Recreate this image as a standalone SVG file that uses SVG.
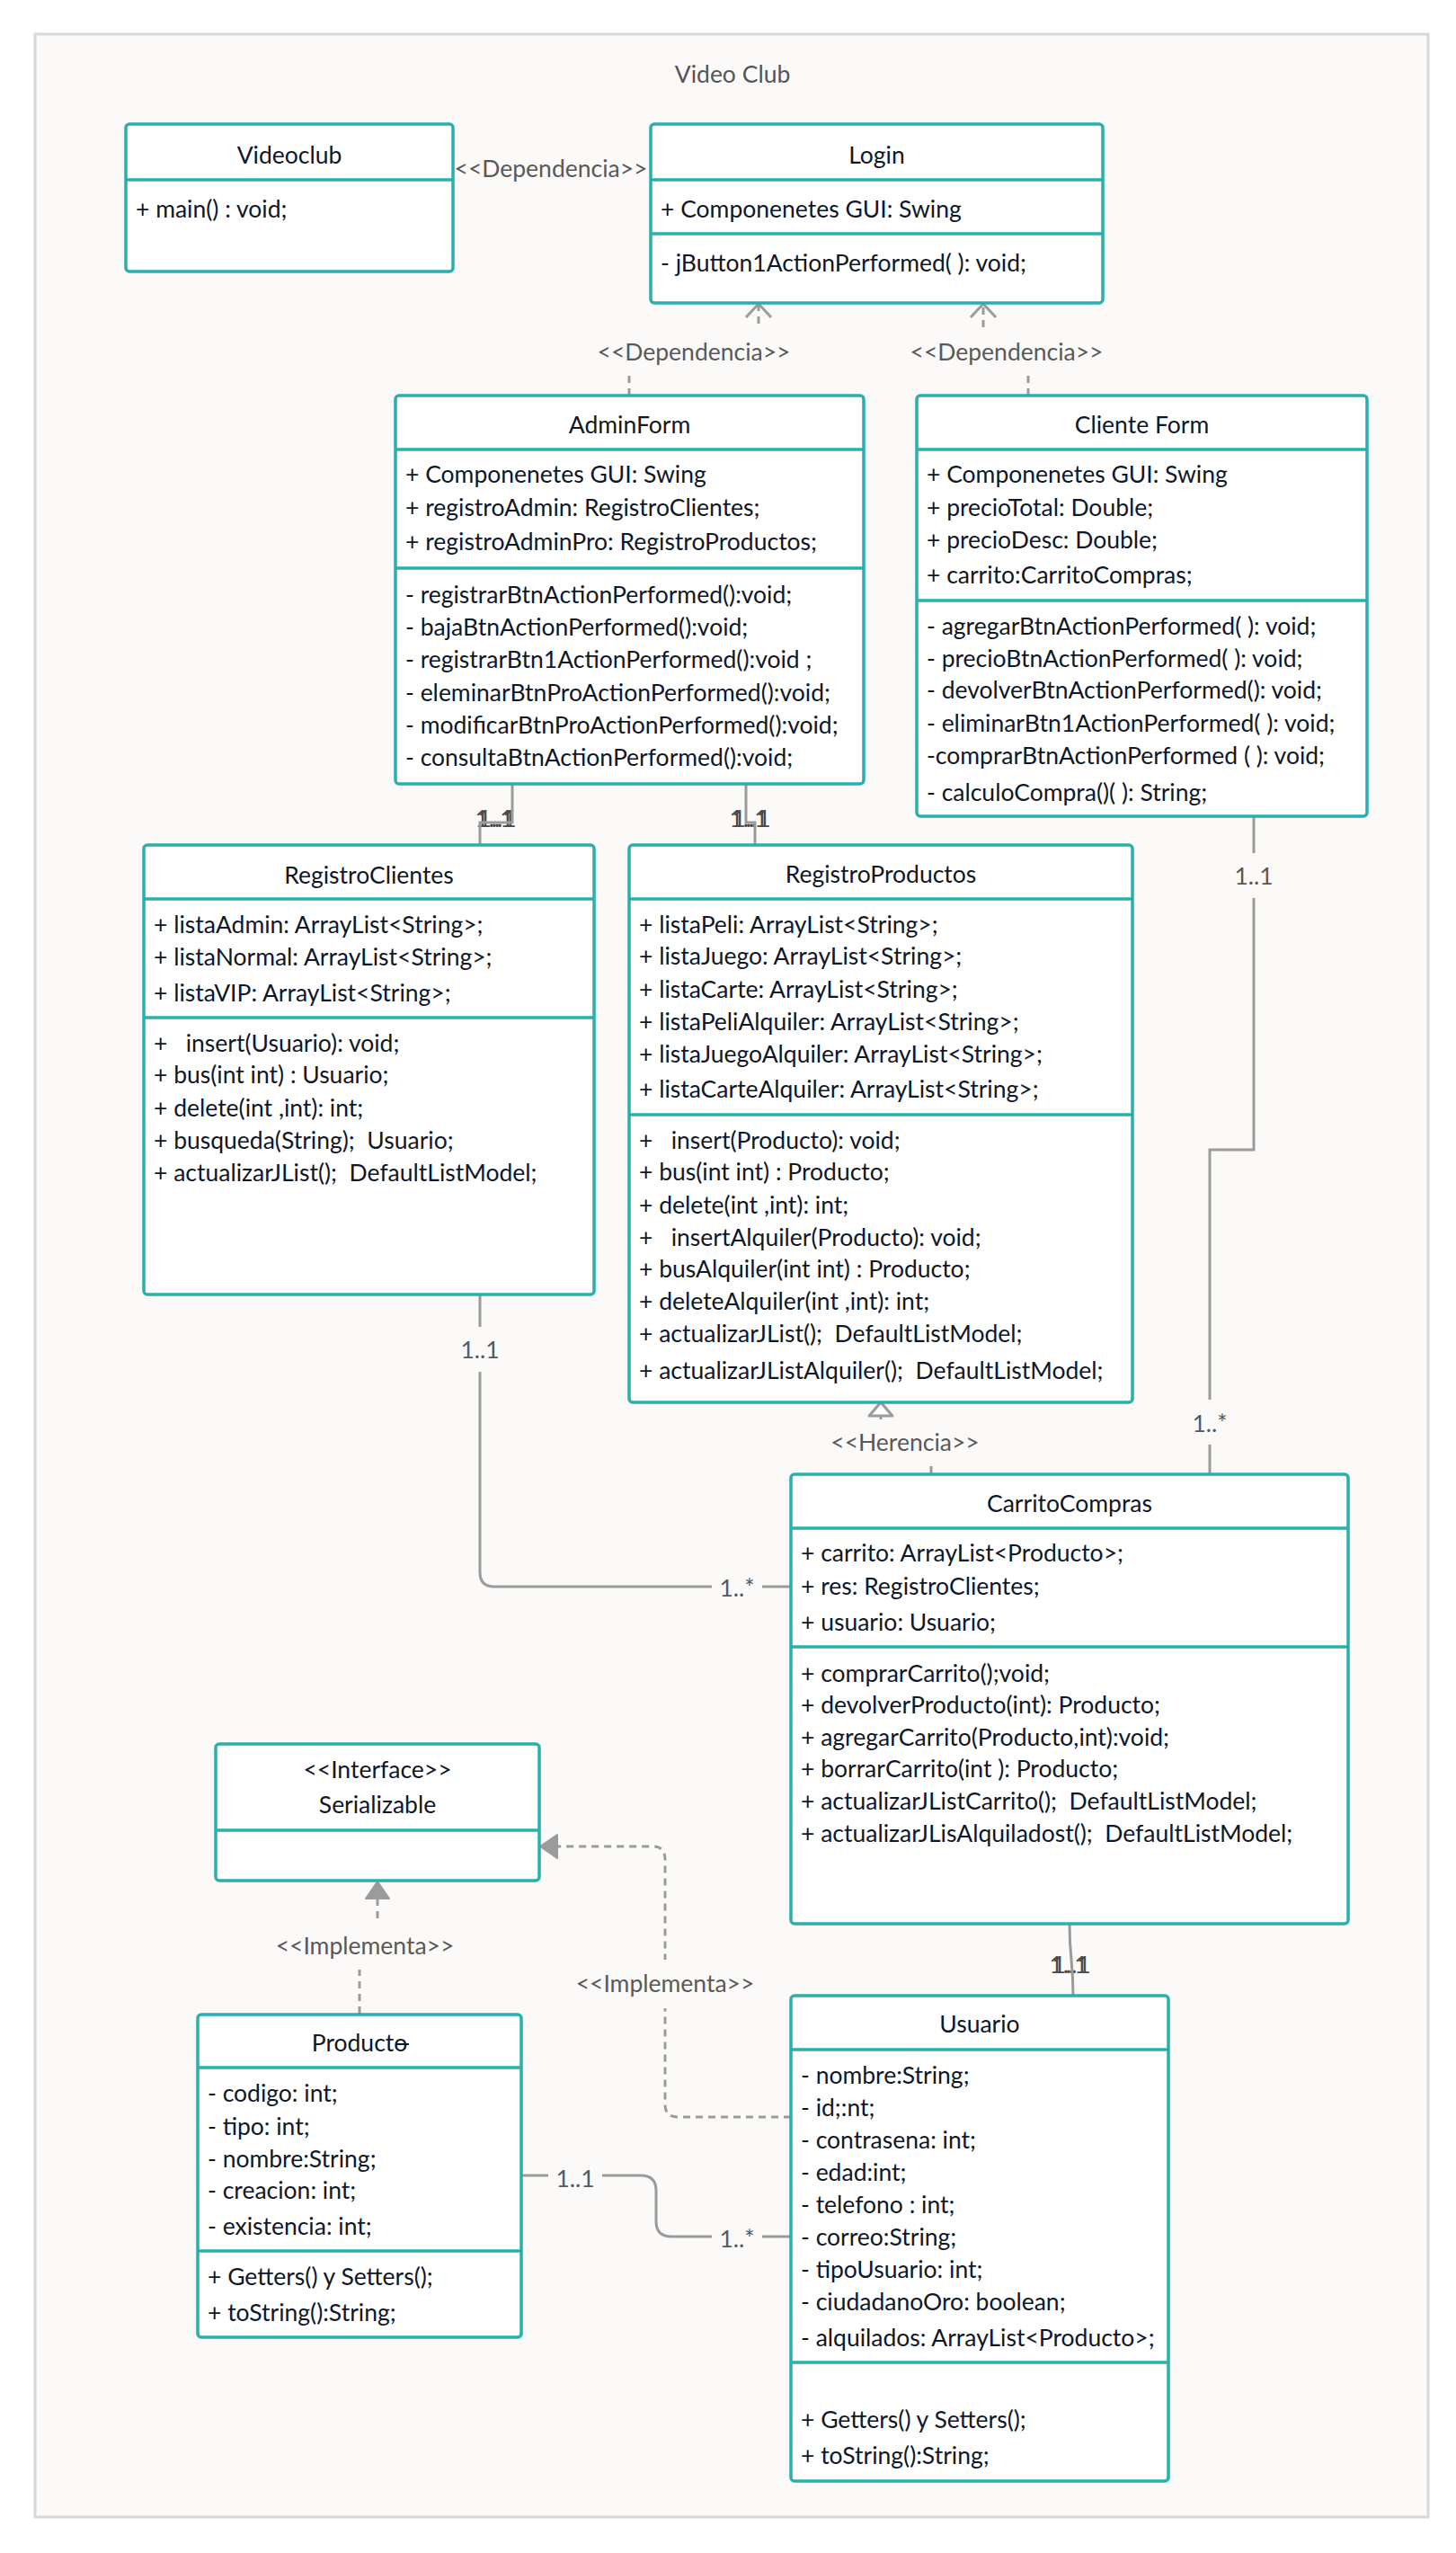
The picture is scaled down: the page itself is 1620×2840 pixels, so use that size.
<svg xmlns="http://www.w3.org/2000/svg" width="1620" height="2840" viewBox="0 0 1620 2840">
<style>
.frame{fill:#fbfaf9;stroke:#d8d8d8;stroke-width:3}
.box{fill:#ffffff;stroke:#27b0ad;stroke-width:3.5}
.dv{stroke:#27b0ad;stroke-width:3.5}
.t{font-family:Lato,"Open Sans","Liberation Sans",sans-serif;font-size:26.5px;fill:#0f1729;white-space:pre}
.c{text-anchor:middle}
.lb{font-family:Lato,"Open Sans","Liberation Sans",sans-serif;font-size:26.5px;fill:#595959;text-anchor:middle;white-space:pre}
.ln{fill:none;stroke:#9b9b9b;stroke-width:3}
.ds{stroke-dasharray:8 6}
.bg{fill:#fbfaf9}
.ah{fill:#9b9b9b;stroke:#9b9b9b;stroke-width:2;stroke-linejoin:round}
</style>
<rect class="frame" x="39" y="38" width="1550" height="2762"/>
<text class="lb" x="815" y="92" style="fill:#555555">Video Club</text>

<g id="connectors">
  <text class="lb" x="550" y="920" style="fill:#4a4a4a">1..1</text>
  <text class="lb" x="553" y="920" style="fill:#4a4a4a">1..1</text>
  <text class="lb" x="833" y="920" style="fill:#4a4a4a">1..1</text>
  <text class="lb" x="836" y="920" style="fill:#4a4a4a">1..1</text>
  <text class="lb" x="1189" y="2195" style="fill:#4a4a4a">1..1</text>
  <text class="lb" x="1192" y="2195" style="fill:#4a4a4a">1..1</text>

  <path class="ln ds" d="M700,440 V392 H844 V339"/>
  <path class="ln" d="M830,353 L844,338 L858,353"/>
  <path class="ln ds" d="M1144,440 V392 H1094 V339"/>
  <path class="ln" d="M1080,353 L1094,338 L1108,353"/>
  <path class="ln" d="M570,872 V915 H534 V940"/>
  <path class="ln" d="M830,872 V915 H840 V940"/>
  <path class="ln" d="M1395,908 V1279 H1346 V1640"/>
  <path class="ln" d="M534,1440 V1749 Q534,1765 550,1765 H880"/>
  <path class="ln" d="M1036,1640 V1605 H980 V1575"/>
  <path d="M980,1560 L967,1575 L993,1575 Z" style="fill:#ffffff;stroke:#9b9b9b;stroke-width:3;stroke-linejoin:round"/>
  <path class="ln" d="M1190,2140 C1190,2180 1194,2180 1194,2221"/>
  <path class="ln ds" d="M400,2240 V2165 H420 V2112"/>
  <path class="ah" d="M420,2093 L407,2112 L433,2112 Z"/>
  <path class="ln ds" d="M880,2355 H754 Q740,2355 740,2341 V2068 Q740,2054 726,2054 H620"/>
  <path class="ah" d="M601,2054 L620,2041 L620,2067 Z"/>
  <path class="ln" d="M580,2420 H713 Q730,2420 730,2437 V2471 Q730,2488 747,2488 H880"/>

  <text class="lb" x="613" y="197">&lt;&lt;Dependencia&gt;&gt;</text>
  <rect class="bg" x="657" y="366" width="230" height="52"/>
  <text class="lb" x="772" y="401">&lt;&lt;Dependencia&gt;&gt;</text>
  <rect class="bg" x="1005" y="366" width="230" height="52"/>
  <text class="lb" x="1120" y="401">&lt;&lt;Dependencia&gt;&gt;</text>
  <rect class="bg" x="1367" y="949" width="56" height="50"/>
  <text class="lb" x="1395" y="984">1..1</text>
  <rect class="bg" x="1318" y="1557" width="56" height="50"/>
  <text class="lb" x="1346" y="1593">1..*</text>
  <rect class="bg" x="506" y="1476" width="56" height="50"/>
  <text class="lb" x="534" y="1511">1..1</text>
  <rect class="bg" x="792" y="1740" width="56" height="50"/>
  <text class="lb" x="820" y="1776">1..*</text>
  <rect class="bg" x="919" y="1579" width="176" height="52"/>
  <text class="lb" x="1007" y="1614">&lt;&lt;Herencia&gt;&gt;</text>
  <rect class="bg" x="298" y="2139" width="216" height="52"/>
  <text class="lb" x="406" y="2174">&lt;&lt;Implementa&gt;&gt;</text>
  <rect class="bg" x="632" y="2180" width="216" height="54"/>
  <text class="lb" x="740" y="2216">&lt;&lt;Implementa&gt;&gt;</text>
  <rect class="bg" x="610" y="2395" width="60" height="50"/>
  <text class="lb" x="640" y="2433">1..1</text>
  <rect class="bg" x="792" y="2463" width="56" height="50"/>
  <text class="lb" x="820" y="2500">1..*</text>
</g>

<g id="videoclub">
  <rect class="box" x="140" y="138" width="364" height="164" rx="4"/>
  <line class="dv" x1="140" y1="200" x2="504" y2="200"/>
  <text class="t c" x="322" y="182">Videoclub</text>
  <text class="t" x="151" y="242">+ main() : void;</text>
</g>

<g id="login">
  <rect class="box" x="724" y="138" width="503" height="199" rx="4"/>
  <line class="dv" x1="724" y1="200" x2="1227" y2="200"/>
  <line class="dv" x1="724" y1="260" x2="1227" y2="260"/>
  <text class="t c" x="975.5" y="182">Login</text>
  <text class="t" x="735" y="242">+ Componenetes GUI: Swing</text>
  <text class="t" x="735" y="302">- jButton1ActionPerformed( ): void;</text>
</g>

<g id="adminform">
  <rect class="box" x="440" y="440" width="521" height="432" rx="4"/>
  <line class="dv" x1="440" y1="500" x2="961" y2="500"/>
  <line class="dv" x1="440" y1="632" x2="961" y2="632"/>
  <text class="t c" x="700.5" y="482">AdminForm</text>
  <text class="t" x="451" y="537">+ Componenetes GUI: Swing</text>
  <text class="t" x="451" y="574">+ registroAdmin: RegistroClientes;</text>
  <text class="t" x="451" y="612">+ registroAdminPro: RegistroProductos;</text>
  <text class="t" x="451" y="671">- registrarBtnActionPerformed():void;</text>
  <text class="t" x="451" y="707">- bajaBtnActionPerformed():void;</text>
  <text class="t" x="451" y="743">- registrarBtn1ActionPerformed():void ;</text>
  <text class="t" x="451" y="780">- eleminarBtnProActionPerformed():void;</text>
  <text class="t" x="451" y="816">- modificarBtnProActionPerformed():void;</text>
  <text class="t" x="451" y="852">- consultaBtnActionPerformed():void;</text>
</g>

<g id="clienteform">
  <rect class="box" x="1020" y="440" width="501" height="468" rx="4"/>
  <line class="dv" x1="1020" y1="500" x2="1521" y2="500"/>
  <line class="dv" x1="1020" y1="668" x2="1521" y2="668"/>
  <text class="t c" x="1270.5" y="482">Cliente Form</text>
  <text class="t" x="1031" y="537">+ Componenetes GUI: Swing</text>
  <text class="t" x="1031" y="574">+ precioTotal: Double;</text>
  <text class="t" x="1031" y="610">+ precioDesc: Double;</text>
  <text class="t" x="1031" y="649">+ carrito:CarritoCompras;</text>
  <text class="t" x="1031" y="706">- agregarBtnActionPerformed( ): void;</text>
  <text class="t" x="1031" y="742">- precioBtnActionPerformed( ): void;</text>
  <text class="t" x="1031" y="777">- devolverBtnActionPerformed(): void;</text>
  <text class="t" x="1031" y="814">- eliminarBtn1ActionPerformed( ): void;</text>
  <text class="t" x="1031" y="850">-comprarBtnActionPerformed ( ): void;</text>
  <text class="t" x="1031" y="891">- calculoCompra()( ): String;</text>
</g>

<g id="registroclientes">
  <rect class="box" x="160" y="940" width="501" height="500" rx="4"/>
  <line class="dv" x1="160" y1="1000" x2="661" y2="1000"/>
  <line class="dv" x1="160" y1="1132" x2="661" y2="1132"/>
  <text class="t c" x="410.5" y="983">RegistroClientes</text>
  <text class="t" x="171" y="1038">+ listaAdmin: ArrayList&lt;String&gt;;</text>
  <text class="t" x="171" y="1074">+ listaNormal: ArrayList&lt;String&gt;;</text>
  <text class="t" x="171" y="1114">+ listaVIP: ArrayList&lt;String&gt;;</text>
  <text class="t" x="171" y="1170">+   insert(Usuario): void;</text>
  <text class="t" x="171" y="1205">+ bus(int int) : Usuario;</text>
  <text class="t" x="171" y="1242">+ delete(int ,int): int;</text>
  <text class="t" x="171" y="1278">+ busqueda(String);  Usuario;</text>
  <text class="t" x="171" y="1314">+ actualizarJList();  DefaultListModel;</text>
</g>

<g id="registroproductos">
  <rect class="box" x="700" y="940" width="560" height="620" rx="4"/>
  <line class="dv" x1="700" y1="1000" x2="1260" y2="1000"/>
  <line class="dv" x1="700" y1="1240" x2="1260" y2="1240"/>
  <text class="t c" x="980" y="982">RegistroProductos</text>
  <text class="t" x="711" y="1038">+ listaPeli: ArrayList&lt;String&gt;;</text>
  <text class="t" x="711" y="1073">+ listaJuego: ArrayList&lt;String&gt;;</text>
  <text class="t" x="711" y="1110">+ listaCarte: ArrayList&lt;String&gt;;</text>
  <text class="t" x="711" y="1146">+ listaPeliAlquiler: ArrayList&lt;String&gt;;</text>
  <text class="t" x="711" y="1182">+ listaJuegoAlquiler: ArrayList&lt;String&gt;;</text>
  <text class="t" x="711" y="1221">+ listaCarteAlquiler: ArrayList&lt;String&gt;;</text>
  <text class="t" x="711" y="1278">+   insert(Producto): void;</text>
  <text class="t" x="711" y="1313">+ bus(int int) : Producto;</text>
  <text class="t" x="711" y="1350">+ delete(int ,int): int;</text>
  <text class="t" x="711" y="1386">+   insertAlquiler(Producto): void;</text>
  <text class="t" x="711" y="1421">+ busAlquiler(int int) : Producto;</text>
  <text class="t" x="711" y="1457">+ deleteAlquiler(int ,int): int;</text>
  <text class="t" x="711" y="1493">+ actualizarJList();  DefaultListModel;</text>
  <text class="t" x="711" y="1534">+ actualizarJListAlquiler();  DefaultListModel;</text>
</g>

<g id="carritocompras">
  <rect class="box" x="880" y="1640" width="620" height="500" rx="4"/>
  <line class="dv" x1="880" y1="1700" x2="1500" y2="1700"/>
  <line class="dv" x1="880" y1="1832" x2="1500" y2="1832"/>
  <text class="t c" x="1190" y="1682">CarritoCompras</text>
  <text class="t" x="891" y="1737">+ carrito: ArrayList&lt;Producto&gt;;</text>
  <text class="t" x="891" y="1774">+ res: RegistroClientes;</text>
  <text class="t" x="891" y="1814">+ usuario: Usuario;</text>
  <text class="t" x="891" y="1871">+ comprarCarrito();void;</text>
  <text class="t" x="891" y="1906">+ devolverProducto(int): Producto;</text>
  <text class="t" x="891" y="1942">+ agregarCarrito(Producto,int):void;</text>
  <text class="t" x="891" y="1977">+ borrarCarrito(int ): Producto;</text>
  <text class="t" x="891" y="2013">+ actualizarJListCarrito();  DefaultListModel;</text>
  <text class="t" x="891" y="2049">+ actualizarJLisAlquiladost();  DefaultListModel;</text>
</g>

<g id="serializable">
  <rect class="box" x="240" y="1940" width="360" height="152" rx="4"/>
  <line class="dv" x1="240" y1="2036" x2="600" y2="2036"/>
  <text class="t c" x="420" y="1978">&lt;&lt;Interface&gt;&gt;</text>
  <text class="t c" x="420" y="2017">Serializable</text>
</g>

<g id="producto">
  <rect class="box" x="220" y="2241" width="360" height="359" rx="4"/>
  <line class="dv" x1="220" y1="2300" x2="580" y2="2300"/>
  <line class="dv" x1="220" y1="2504" x2="580" y2="2504"/>
  <text class="t c" x="400" y="2282">Producto</text>
  <line x1="440" y1="2274" x2="455" y2="2274" style="stroke:#0f1729;stroke-width:2"/>
  <text class="t" x="231" y="2338">- codigo: int;</text>
  <text class="t" x="231" y="2375">- tipo: int;</text>
  <text class="t" x="231" y="2411">- nombre:String;</text>
  <text class="t" x="231" y="2446">- creacion: int;</text>
  <text class="t" x="231" y="2486">- existencia: int;</text>
  <text class="t" x="231" y="2542">+ Getters() y Setters();</text>
  <text class="t" x="231" y="2582">+ toString():String;</text>
</g>

<g id="usuario">
  <rect class="box" x="880" y="2220" width="420" height="540" rx="4"/>
  <line class="dv" x1="880" y1="2280" x2="1300" y2="2280"/>
  <line class="dv" x1="880" y1="2628" x2="1300" y2="2628"/>
  <text class="t c" x="1090" y="2261">Usuario</text>
  <text class="t" x="891" y="2318">- nombre:String;</text>
  <text class="t" x="891" y="2354">- id;:nt;</text>
  <text class="t" x="891" y="2390">- contrasena: int;</text>
  <text class="t" x="891" y="2426">- edad:int;</text>
  <text class="t" x="891" y="2462">- telefono : int;</text>
  <text class="t" x="891" y="2498">- correo:String;</text>
  <text class="t" x="891" y="2534">- tipoUsuario: int;</text>
  <text class="t" x="891" y="2570">- ciudadanoOro: boolean;</text>
  <text class="t" x="891" y="2610">- alquilados: ArrayList&lt;Producto&gt;;</text>
  <text class="t" x="891" y="2701">+ Getters() y Setters();</text>
  <text class="t" x="891" y="2741">+ toString():String;</text>
</g>
</svg>
